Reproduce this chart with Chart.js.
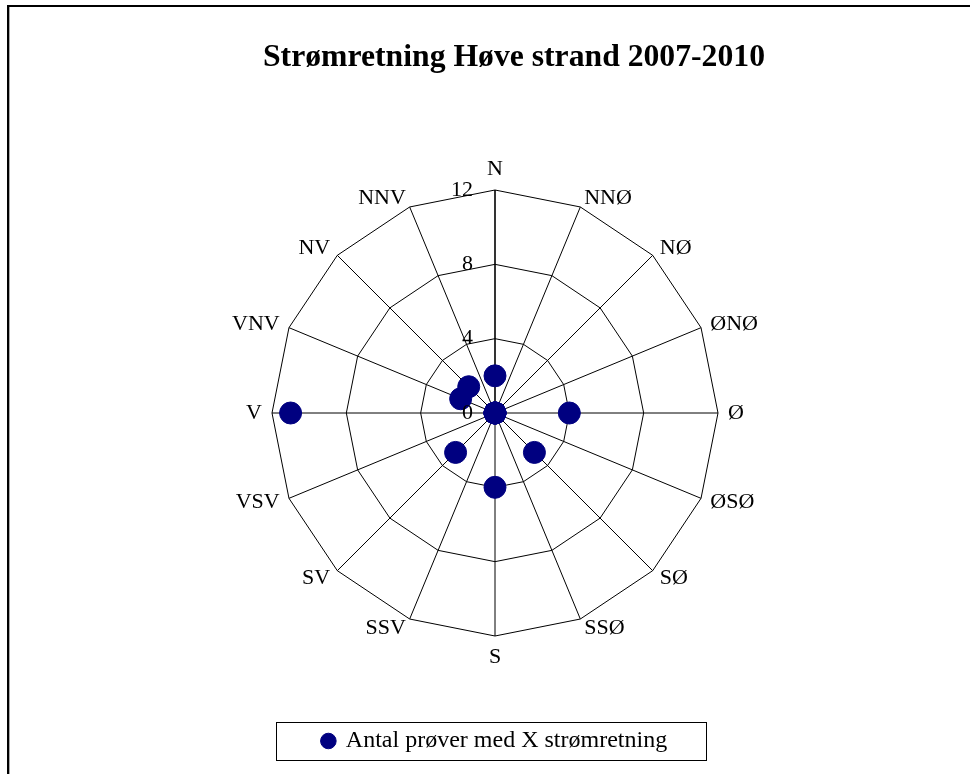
<!DOCTYPE html>
<html>
<head>
<meta charset="utf-8">
<script src="https://cdn.jsdelivr.net/npm/chart.js@4.4.1/dist/chart.umd.min.js"></script>
<style>
    html, body { margin: 0; padding: 0; background: #fff; overflow: hidden; }
    #wrap { position: relative; width: 970px; height: 774px; }
    #frame {
        position: absolute; left: 7px; top: 5px; width: 1000px; height: 1000px;
        border-left: 2px solid #000; border-top: 2px solid #000;
        box-shadow: inset 1px 0 0 #aaa;
    }
    #title {
        position: absolute; left: 0; top: 38px; width: 1028px;
        text-align: center; line-height: 32px;
        font: bold 31.7px "Liberation Serif", "Times New Roman", serif; color: #000;
    }
    #chart { position: absolute; left: 0; top: 0; }
</style>
</head>
<body>
<div id="wrap">
    <div id="frame"></div>
    <canvas id="chart" width="970" height="774"></canvas>
    <div id="title">Strømretning Høve strand 2007-2010</div>
</div>
<script>
// retninger (uret fra nord)
const directions = ['N', 'NNØ', 'NØ', 'ØNØ', 'Ø', 'ØSØ', 'SØ', 'SSØ', 'S', 'SSV', 'SV', 'VSV', 'V', 'VNV', 'NV', 'NNV'];
// antal prøver pr. retning
const counts = [2, 0, 0, 0, 4, 0, 3, 0, 4, 0, 3, 0, 11, 2, 2, 0];
const seriesName = 'Antal prøver med X strømretning';
const tickValues = [0, 4, 8, 12];

const navy = '#000080';
const serif = '"Liberation Serif", "Times New Roman", serif';
Chart.defaults.font.family = serif;
Chart.defaults.color = '#000';

// akse-tal til venstre for N-aksen
const tickLabelPlugin = {
    id: 'tickLabels',
    afterDraw(chart) {
        const scale = chart.scales.r;
        const ctx = chart.ctx;
        ctx.save();
        ctx.font = '22px ' + serif;
        ctx.fillStyle = '#000';
        ctx.textAlign = 'right';
        ctx.textBaseline = 'middle';
        tickValues.forEach(v => {
            const y = scale.yCenter - scale.getDistanceFromCenterForValue(v);
            ctx.fillText(String(v), scale.xCenter - 22, y);
        });
        ctx.restore();
    }
};

// retningsnavne som i Excel: midt på højde, venstre/højre justeret
const dirLabelPlugin = {
    id: 'dirLabels',
    afterDraw(chart) {
        const scale = chart.scales.r;
        const ctx = chart.ctx;
        ctx.save();
        ctx.font = '22px ' + serif;
        ctx.fillStyle = '#000';
        directions.forEach((lab, i) => {
            const p = scale.getPointPosition(i, scale.drawingArea + 10);
            const deg = 360 / directions.length * i;
            let align = 'left', base = 'middle';
            if (deg === 0) { align = 'center'; base = 'bottom'; }
            else if (deg === 180) { align = 'center'; base = 'top'; }
            else if (deg > 180) { align = 'right'; }
            ctx.textAlign = align;
            ctx.textBaseline = base;
            ctx.fillText(lab, p.x, p.y);
        });
        ctx.restore();
    }
};

// ramme om forklaringen
const legendBoxPlugin = {
    id: 'legendBox',
    afterDraw(chart) {
        const lg = chart.legend;
        const ctx = chart.ctx;
        const cx = (lg.left + lg.right) / 2;
        const cy = lg.top + lg.options.labels.padding + lg.options.labels.font.size / 2;
        ctx.save();
        ctx.strokeStyle = '#000';
        ctx.lineWidth = 1;
        ctx.strokeRect(Math.round(cx - 219) + 0.5, Math.round(cy - 19) + 0.5, 430, 38);
        ctx.restore();
    }
};

new Chart(document.getElementById('chart'), {
    type: 'radar',
    data: {
        labels: directions,
        datasets: [{
            label: seriesName,
            data: counts,
            showLine: false,
            fill: false,
            borderColor: navy,
            backgroundColor: navy,
            pointBackgroundColor: navy,
            pointBorderColor: navy,
            pointBorderWidth: 1,
            pointRadius: 11,
            pointHoverRadius: 11
        }]
    },
    options: {
        responsive: false,
        animation: false,
        events: [],
        layout: {
            padding: { left: 120, right: 100, top: 190, bottom: 11 }
        },
        plugins: {
            title: { display: false },
            tooltip: { enabled: false },
            legend: {
                position: 'bottom',
                labels: {
                    usePointStyle: true,
                    boxWidth: 11,
                    boxHeight: 11,
                    padding: 93,
                    color: '#000',
                    font: { size: 24 }
                }
            }
        },
        scales: {
            r: {
                min: 0,
                max: 12,
                ticks: { stepSize: 4, display: false },
                grid: { circular: false, color: '#000', lineWidth: 1 },
                angleLines: {
                    color: '#000',
                    lineWidth: ctx => ctx.index === 0 ? 1.6 : 1
                },
                pointLabels: { display: false }
            }
        }
    },
    plugins: [tickLabelPlugin, dirLabelPlugin, legendBoxPlugin]
});
</script>
</body>
</html>
